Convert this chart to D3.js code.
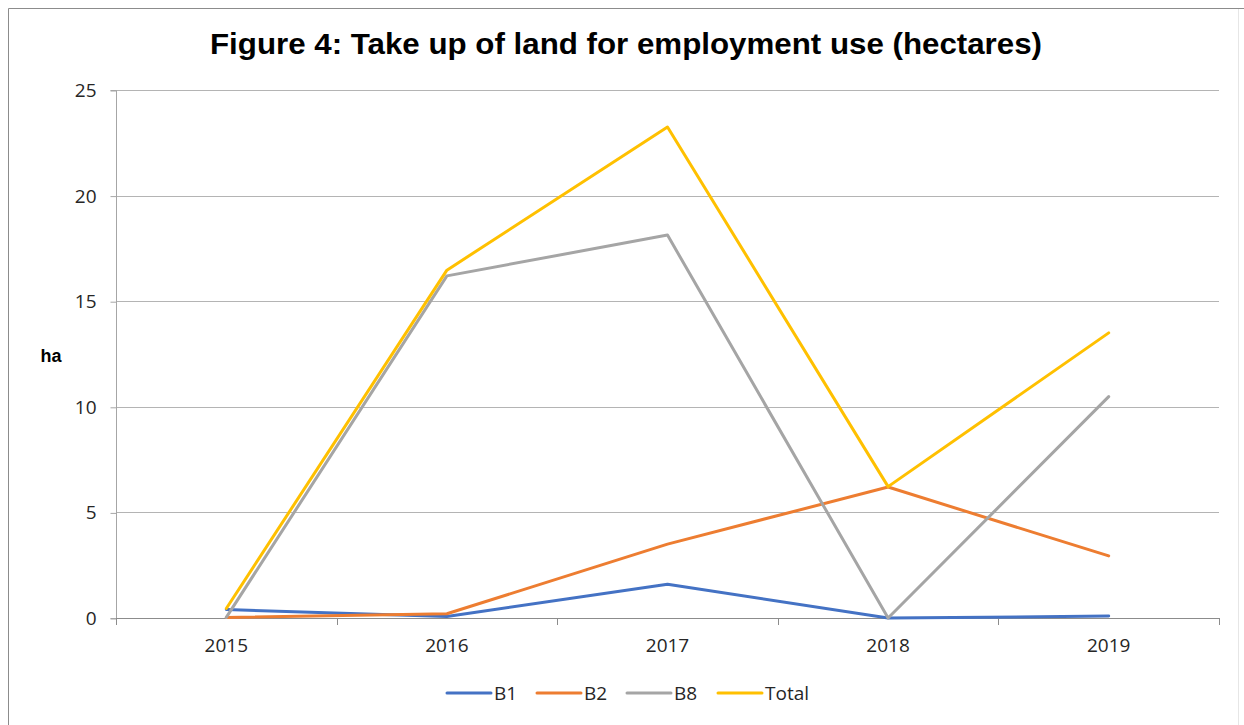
<!DOCTYPE html>
<html><head><meta charset="utf-8">
<script src="https://cdn.jsdelivr.net/npm/d3@7"></script>
<style>
html,body{margin:0;padding:0;background:#fff;}
svg{display:block;}
</style></head>
<body>
<svg id="chart" width="1244" height="725"></svg>
<script>
const categories = ["2015","2016","2017","2018","2019"];
const seriesNames = ["B1","B2","B8","Total"];
const B1 = [0.40, 0.07, 1.60, 0.00, 0.09];
const B2 = [0.02, 0.20, 3.50, 6.20, 2.94];
const B8 = [0.03, 16.20, 18.13, 0.00, 10.48];
const Total = [0.45, 16.47, 23.25, 6.22, 13.50];
const yTicks = [0, 5, 10, 15, 20, 25];
const colors = ["#4472C4", "#ED7D31", "#A5A5A5", "#FFC000"];
const seriesValues = [B1, B2, B8, Total];

(function(){
const svg = d3.select("#chart");
const W = 1244, H = 725;
const pLeft = 116, pRight = 1219, pTop = 90, pBottom = 618;
const labelFont = "Open Sans, Liberation Sans, sans-serif";

// outer border
svg.append("line").attr("x1",8.5).attr("x2",8.5).attr("y1",8.5).attr("y2",H).attr("stroke","#8c8c8c");
svg.append("line").attr("x1",8.5).attr("x2",W).attr("y1",8.5).attr("y2",8.5).attr("stroke","#8c8c8c");
svg.append("line").attr("x1",1238.5).attr("x2",1238.5).attr("y1",9).attr("y2",H).attr("stroke","#e6e6e6");

svg.append("text").attr("x",210).attr("y",54)
  .attr("font-family","Liberation Sans, Arial, sans-serif").attr("font-weight","bold")
  .attr("font-size",29).attr("fill","#000")
  .attr("textLength",832).attr("lengthAdjust","spacingAndGlyphs")
  .text("Figure 4: Take up of land for employment use (hectares)");

const x = d3.scaleBand().domain(categories).range([pLeft, pRight]);
const y = d3.scaleLinear().domain([0, 25]).range([pBottom, pTop]);

// gridlines
svg.append("g").selectAll("line").data(yTicks.filter(d=>d>0)).join("line")
  .attr("x1",pLeft).attr("x2",pRight)
  .attr("y1",d=>Math.round(y(d))+0.5).attr("y2",d=>Math.round(y(d))+0.5)
  .attr("stroke","#b4b4b4").attr("stroke-width",1);

// y axis
const yAxis = d3.axisLeft(y).tickValues(yTicks).tickSize(6).tickPadding(14).tickFormat(d3.format("d"));
const gy = svg.append("g").attr("transform",`translate(${pLeft+0.5},0.5)`).call(yAxis);
gy.select(".domain").attr("stroke","#a6a6a6").attr("d",`M-6,${y(25)}H0V${y(0)}H-6`);
gy.selectAll(".tick line").attr("stroke","#a6a6a6");
gy.selectAll(".tick text").attr("font-family",labelFont).attr("font-size",19).attr("fill","#262626");

// x axis
const xAxis = d3.axisBottom(x).tickSize(0).tickPadding(20);
const gx = svg.append("g").attr("transform",`translate(0,${pBottom+0.5})`).call(xAxis);
gx.select(".domain").attr("stroke","#8c8c8c").attr("d",`M${pLeft},0H${pRight}`);
gx.selectAll(".tick text").attr("font-family",labelFont).attr("font-size",19).attr("fill","#262626");
const bounds = categories.map(c=>x(c)).concat([pRight]);
svg.append("g").selectAll("line").data(bounds).join("line")
  .attr("x1",d=>Math.round(d)+0.5).attr("x2",d=>Math.round(d)+0.5)
  .attr("y1",pBottom).attr("y2",pBottom+7).attr("stroke","#8c8c8c");

// y label
svg.append("text").attr("x",51).attr("y",362).attr("text-anchor","middle")
  .attr("font-family","Liberation Sans, Arial, sans-serif").attr("font-weight","bold")
  .attr("font-size",18).attr("fill","#000").text("ha");

// lines
const line = d3.line().x((d,i)=>x(categories[i]) + x.bandwidth()/2).y(d=>y(d));
seriesValues.forEach((vals,k)=>{
  svg.append("path").datum(vals).attr("d",line).attr("fill","none")
    .attr("stroke",colors[k]).attr("stroke-width",3).attr("stroke-linejoin","round").attr("stroke-linecap","round");
});

// legend
const legX = [447, 537, 627, 718];
const leg = svg.append("g");
seriesNames.forEach((n,k)=>{
  leg.append("line").attr("x1",legX[k]).attr("x2",legX[k]+44).attr("y1",693).attr("y2",693)
    .attr("stroke",colors[k]).attr("stroke-width",3).attr("stroke-linecap","round");
  leg.append("text").attr("x",legX[k]+47).attr("y",700)
    .attr("font-family",labelFont).attr("font-size",19).attr("fill","#262626").text(n);
});
})();
</script>
</body></html>
